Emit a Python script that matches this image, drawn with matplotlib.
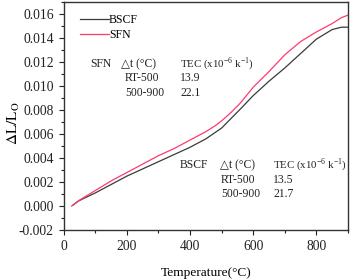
import matplotlib
matplotlib.use('Agg')
import matplotlib.pyplot as plt
from matplotlib.ticker import MultipleLocator, FormatStrFormatter

plt.rcParams['font.family'] = ['Liberation Serif', 'DejaVu Serif']
plt.rcParams['mathtext.fontset'] = 'stix'

# SFN curve (red)
T_sfn = [25, 30, 50, 100, 150, 200, 250, 300, 350, 400, 450, 480, 500, 530, 560,
         600, 650, 700, 750, 800, 850, 880, 900]
dL_sfn = [0.0, 0.0001, 0.0005, 0.0013, 0.0021, 0.0028, 0.0035, 0.0042, 0.0048, 0.0055,
          0.0062, 0.0067, 0.0071, 0.0078, 0.0086, 0.0099, 0.0112, 0.0126, 0.0137,
          0.0145, 0.0152, 0.0157, 0.0159]

# BSCF curve (black)
T_bscf = [30, 35, 45, 60, 100, 150, 200, 250, 300, 350, 400, 450, 500, 530, 560,
          600, 650, 700, 750, 800, 850, 880, 900]
dL_bscf = [0.0001, 0.0002, 0.0004, 0.0006, 0.0011, 0.0018, 0.0025, 0.0031, 0.0037,
           0.0043, 0.0049, 0.0056, 0.0065, 0.0073, 0.0081, 0.0092, 0.0104, 0.0115,
           0.0127, 0.0139, 0.0147, 0.0149, 0.0149]

tec_sfn = ['13.9', '22.1']
tec_bscf = ['13.5', '21.7']
ranges = ['RT-500', '500-900']

fig = plt.figure(figsize=(3.5, 2.79), dpi=100)
ax = fig.add_axes([0.182, 0.175, 0.812, 0.818])

ax.plot(T_bscf, dL_bscf, color='#3a3a3a', lw=0.9, label='BSCF')
ax.plot(T_sfn, dL_sfn, color='#ff3a6a', lw=0.9, label='SFN')

ax.set_xlim(0, 900)
ax.set_ylim(-0.002, 0.017)
ax.xaxis.set_major_locator(MultipleLocator(200))
ax.xaxis.set_minor_locator(MultipleLocator(100))
ax.yaxis.set_major_locator(MultipleLocator(0.002))
ax.yaxis.set_minor_locator(MultipleLocator(0.001))
ax.yaxis.set_major_formatter(FormatStrFormatter('%.3f'))
ax.tick_params(which='both', direction='out', labelsize=9.8, width=0.8, colors='#222222')
ax.tick_params(which='major', length=3.5)
ax.tick_params(which='minor', length=2)
for s in ax.spines.values():
    s.set_linewidth(1.0)
    s.set_color('#333333')

ax.set_xlabel('Temperature(°C)', fontsize=9.6, labelpad=10)
ax.set_ylabel(r'$\mathrm{\Delta L/L_O}$', fontsize=11)
ax.yaxis.set_label_coords(-0.148, 0.47)

leg = ax.legend(loc='upper left', bbox_to_anchor=(0.03, 0.985), frameon=False, fontsize=8.5,
                handlelength=2.4, handletextpad=0.0, borderaxespad=0.3, labelspacing=0.3)

fs = 8.4


def put(x, y, s, size=fs):
    # x, y in pixels from the top-left corner of the figure
    fig.text(x / 350, 1 - y / 279, s, fontsize=size, va='center', ha='left', color='#222222')


tec_label = r'TEC (x10$^{\mathregular{-6}}$ k$^{\mathregular{-1}}$)'

put(90, 64, 'SFN')
put(121, 64, '△t (°C)')
put(125, 78, ranges[0])
put(125, 93, ranges[1])
put(180, 64, tec_label, 7.8)
put(180, 78, tec_sfn[0])
put(180, 93, tec_sfn[1])

put(180, 165, 'BSCF')
put(220, 165, '△t (°C)')
put(221, 180, ranges[0])
put(221, 194, ranges[1])
put(273, 165, tec_label, 7.8)
put(273, 180, tec_bscf[0])
put(273, 194, tec_bscf[1])

fig.savefig('out.png', dpi=100)
